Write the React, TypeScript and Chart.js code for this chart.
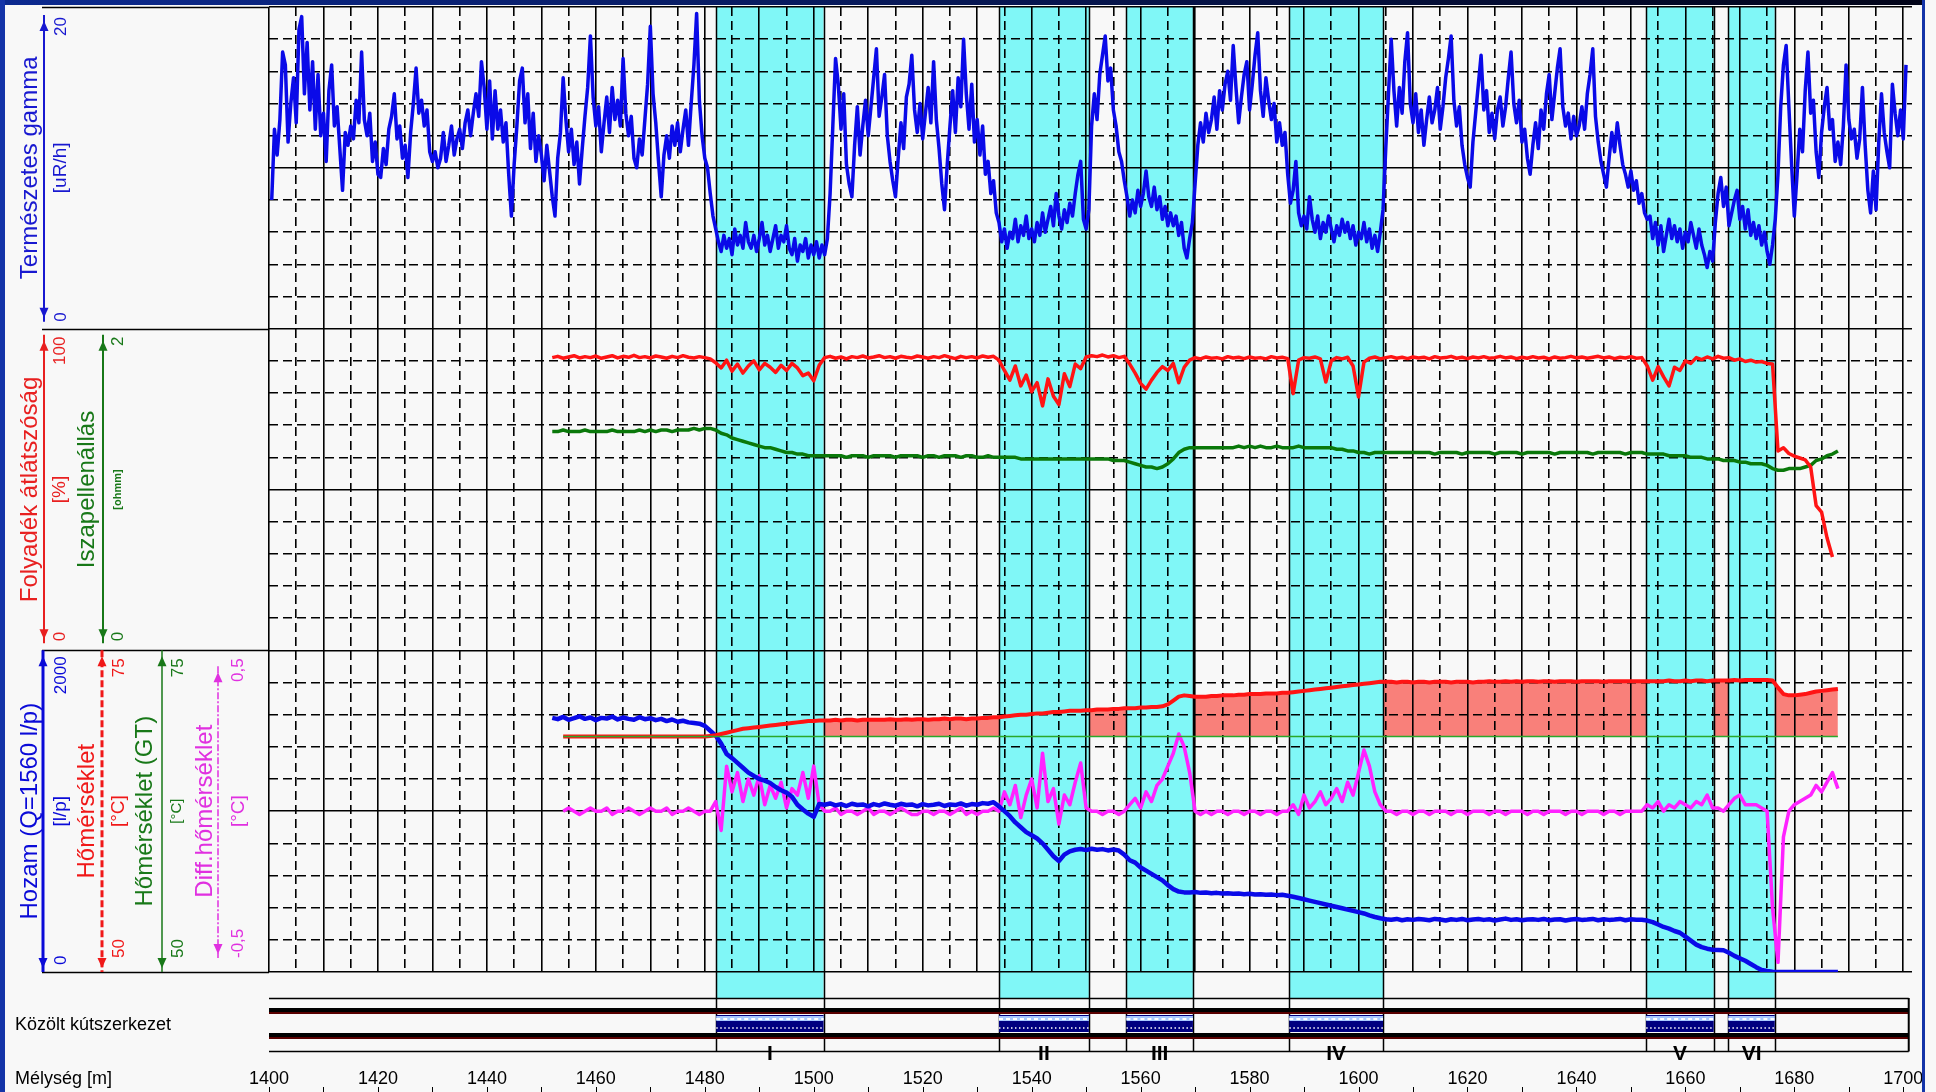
import React, { useEffect, useRef } from 'react';
import { Chart, registerables } from 'chart.js';

Chart.register(...registerables);

// ---- depth axis (m) ----
const DEPTH_MIN = 1400;
const DEPTH_MAX = 1701.6;
const DEPTH_GRID_STEP = 5;
const DEPTH_LABEL_STEP = 20;

// ---- tested intervals ----
const intervalNames = ['I', 'II', 'III', 'IV', 'V', 'VI'];
const intervalTop = [1482.1, 1534.0, 1557.4, 1587.3, 1652.8, 1667.9];
const intervalBottom = [1501.8, 1550.5, 1569.6, 1604.5, 1665.2, 1676.4];
const wellEnd = 1701.0;

// ---- track ranges ----
const gammaRange = [0, 20];
const transparencyRange = [0, 100];
const resistivityRange = [0, 2];
const flowRange = [0, 2000];
const temperatureRange = [50, 75];
const diffTempRange = [-0.5, 0.5];

// ---- natural gamma [uR/h], every 0.5 m from 1400.5 m ----
const gammaStart = 1400.5;
const gammaStep = 0.5;
const gammaValues = [
  8.0, 12.4, 10.8, 13.0, 17.2, 16.4, 11.6, 14.0, 15.6, 12.8, 18.6, 19.4, 14.6, 17.8, 13.6, 16.6, 12.4, 15.8, 12.0, 13.4,
  10.4, 14.8, 16.4, 12.6, 13.8, 11.2, 8.6, 12.2, 11.4, 12.6, 11.8, 14.2, 12.8, 17.2, 13.0, 12.0, 13.4, 10.4, 11.6, 9.6,
  9.4, 11.2, 10.2, 12.4, 13.2, 14.6, 11.8, 12.6, 10.6, 11.4, 9.4, 12.2, 14.0, 16.2, 13.4, 14.2, 12.6, 13.6, 11.0, 10.4,
  11.0, 10.0, 10.6, 12.2, 10.4, 11.4, 12.6, 10.8, 11.8, 12.4, 11.2, 12.8, 13.6, 12.0, 13.4, 14.6, 13.2, 16.6, 15.0, 12.4,
  15.4, 11.8, 14.8, 12.4, 13.6, 11.6, 12.8, 9.6, 7.0, 10.2, 12.6, 15.4, 16.2, 12.8, 14.6, 11.2, 13.4, 10.4, 12.0, 10.8,
  9.2, 11.4, 9.8, 8.2, 7.0, 10.6, 12.2, 15.6, 13.0, 11.0, 12.4, 10.2, 11.6, 9.0, 11.2, 13.2, 15.0, 18.2, 14.4, 12.6,
  13.8, 11.0, 12.8, 14.4, 12.2, 15.0, 13.0, 14.2, 12.6, 16.8, 13.4, 12.0, 13.2, 10.6, 10.0, 11.8, 10.8, 13.0, 15.2, 18.8,
  14.6, 12.8, 10.4, 8.2, 10.8, 12.0, 10.6, 12.6, 11.4, 12.8, 11.0, 12.4, 13.6, 11.4, 14.0, 16.4, 19.6, 14.2, 12.0, 10.6,
  10.0, 8.4, 7.0, 6.2, 5.4, 4.8, 5.8, 5.0, 5.6, 4.6, 6.2, 5.2, 5.8, 5.0, 6.6, 5.4, 5.0, 5.8, 4.8, 5.6,
  6.6, 5.2, 5.8, 4.8, 5.6, 6.4, 5.0, 5.8, 5.4, 6.4, 5.0, 4.6, 5.6, 4.2, 5.2, 4.8, 5.6, 4.4, 5.2, 4.6,
  5.4, 4.4, 5.2, 4.6, 5.6, 8.4, 12.6, 16.8, 15.2, 12.4, 14.6, 10.2, 9.0, 8.2, 11.4, 13.8, 10.8, 12.6, 14.2, 12.0,
  13.8, 15.6, 17.4, 13.2, 14.4, 15.8, 12.0, 10.4, 9.2, 8.2, 10.6, 12.8, 11.2, 14.4, 15.2, 17.0, 13.6, 12.2, 14.0, 11.8,
  13.4, 15.0, 12.8, 16.6, 13.0, 11.2, 9.0, 7.4, 10.2, 12.6, 14.8, 12.2, 15.6, 13.8, 18.0, 14.6, 12.4, 15.2, 11.6, 13.0,
  10.8, 12.6, 9.6, 10.4, 8.4, 9.2, 7.2, 6.6, 5.4, 6.2, 5.0, 6.0, 5.6, 6.8, 5.4, 6.4, 5.8, 7.0, 5.6, 6.2,
  5.4, 6.6, 5.8, 7.2, 6.0, 6.8, 7.6, 6.4, 8.4, 7.0, 6.2, 7.4, 6.6, 7.8, 7.0, 8.4, 9.6, 10.4, 6.8, 6.2,
  7.4, 12.6, 14.6, 13.0, 15.8, 17.0, 18.2, 15.4, 16.2, 13.6, 12.6, 11.0, 10.4, 9.2, 8.2, 7.0, 8.0, 7.2, 8.6, 7.6,
  8.4, 9.8, 8.2, 7.6, 8.8, 7.4, 8.2, 6.8, 7.6, 6.4, 7.2, 6.4, 7.0, 5.8, 6.6, 5.0, 4.4, 5.6, 6.6, 9.0,
  11.4, 12.8, 11.6, 13.4, 12.2, 13.0, 14.4, 12.4, 14.8, 13.6, 15.2, 16.0, 14.2, 17.6, 15.0, 12.8, 14.4, 15.8, 16.6, 13.6,
  15.2, 17.0, 18.4, 14.8, 13.2, 15.6, 14.2, 13.0, 14.0, 11.6, 12.8, 11.4, 12.2, 9.6, 7.8, 8.6, 10.4, 7.2, 6.4, 7.0,
  6.2, 8.2, 6.8, 6.0, 7.0, 5.6, 6.6, 6.0, 7.0, 6.2, 5.4, 6.4, 5.8, 6.8, 6.0, 6.6, 5.6, 6.4, 5.2, 6.0,
  5.6, 6.6, 5.4, 6.2, 5.0, 5.8, 4.8, 6.0, 7.4, 11.2, 14.6, 18.0, 14.8, 12.6, 15.0, 13.4, 16.6, 18.4, 14.0, 12.8,
  14.6, 12.2, 13.6, 11.4, 13.0, 14.4, 12.8, 13.6, 15.0, 12.4, 13.8, 15.6, 16.8, 18.2, 14.2, 12.6, 13.8, 11.4, 10.2, 9.4,
  8.8, 11.6, 13.4, 15.2, 17.0, 13.6, 14.8, 12.2, 13.4, 11.8, 13.6, 14.4, 12.6, 13.8, 15.6, 17.2, 14.0, 12.8, 14.2, 11.6,
  12.4, 10.6, 9.6, 11.4, 12.8, 11.2, 13.6, 12.4, 14.6, 15.8, 13.0, 14.6, 16.2, 17.4, 13.8, 12.6, 13.4, 11.8, 13.2, 12.0,
  12.6, 13.8, 12.4, 14.6, 15.8, 17.4, 13.2, 11.6, 10.4, 9.6, 8.8, 10.6, 12.2, 11.0, 12.8, 11.4, 10.2, 9.6, 8.8, 9.8,
  8.6, 9.2, 7.8, 8.4, 7.2, 6.8, 7.0, 5.6, 6.6, 5.2, 6.4, 4.8, 5.8, 6.8, 5.6, 6.4, 5.4, 6.2, 5.0, 6.0,
  5.4, 6.6, 5.8, 5.0, 6.2, 5.2, 4.6, 3.8, 4.8, 4.2, 6.6, 8.4, 9.4, 7.6, 8.8, 6.4, 7.2, 8.0, 8.6, 6.8,
  7.6, 6.2, 7.4, 5.8, 6.6, 5.6, 6.4, 5.2, 6.0, 4.8, 4.0, 5.2, 6.8, 9.6, 13.8, 16.4, 17.6, 13.8, 10.2, 7.0,
  9.6, 12.4, 11.0, 14.8, 17.2, 13.4, 14.2, 11.0, 9.4, 12.2, 13.8, 15.0, 12.4, 13.0, 10.4, 11.6, 10.2, 12.6, 16.4, 13.0,
  11.8, 12.4, 10.6, 11.8, 15.0, 11.4, 8.6, 7.2, 9.8, 7.4, 11.6, 14.6, 12.2, 11.0, 10.0, 15.2, 13.4, 12.0, 13.6, 11.8,
  16.4,
];

// ---- production logs, every 1 m from 1452 m ----
const logStart = 1452;
const logStep = 1;

// fluid transparency [%]
const transparencyValues = [
  91.0, 91.4, 90.8, 91.2, 91.6, 90.9, 91.3, 91.0, 91.5, 90.8,
  91.2, 91.6, 90.9, 91.4, 91.1, 91.7, 91.0, 91.3, 90.9, 91.5,
  91.2, 90.8, 91.4, 91.0, 91.6, 91.1, 90.9, 91.3, 91.0, 90.6,
  89.4, 87.8, 90.2, 86.8, 89.0, 86.2, 88.4, 90.0, 87.2, 89.2,
  88.0, 86.4, 88.6, 87.0, 89.2, 87.8, 85.4, 86.2, 83.8, 88.6,
  91.0, 91.4, 90.8, 91.2, 90.6, 91.3, 91.0, 91.5, 90.9, 91.2,
  91.6, 91.0, 91.3, 90.8, 91.4, 91.1, 90.9, 91.5, 91.2, 90.8,
  91.3, 91.0, 91.6, 91.1, 90.7, 91.4, 91.0, 91.3, 90.9, 91.5,
  91.1, 91.4, 90.2, 87.0, 84.0, 88.4, 82.2, 85.6, 80.4, 83.2,
  76.0, 84.4, 79.0, 76.4, 86.0, 82.0, 89.0, 87.6, 91.2, 91.6,
  91.3, 91.8, 91.2, 91.6, 91.0, 91.4, 89.0, 86.2, 83.0, 81.2,
  84.0, 86.4, 88.2, 87.0, 89.2, 83.2, 88.0, 90.2, 91.0, 90.6,
  91.2, 90.8, 91.0, 90.6, 91.3, 90.9, 91.1, 90.7, 91.2, 90.8,
  91.0, 90.6, 91.3, 90.9, 91.1, 90.7, 79.8, 90.2, 91.0, 90.8,
  91.2, 90.6, 83.4, 90.0, 91.0, 90.6, 91.1, 88.4, 78.8, 89.6,
  90.8, 91.2, 90.6, 91.0, 91.3, 90.8, 91.1, 90.7, 91.2, 90.9,
  91.1, 90.6, 91.3, 90.9, 91.0, 91.4, 90.8, 91.1, 90.7, 91.2,
  90.9, 91.3, 90.8, 91.0, 91.4, 90.9, 91.2, 90.7, 91.1, 90.8,
  91.3, 90.9, 91.1, 90.6, 91.2, 90.8, 91.0, 91.4, 90.9, 91.2,
  90.8, 91.1, 91.4, 90.9, 91.2, 90.7, 91.1, 90.9, 91.3, 90.8,
  91.0, 88.4, 84.0, 88.2, 85.0, 82.2, 88.0, 87.0, 90.0, 89.2,
  91.0, 90.4, 91.2, 90.6, 91.4, 90.8, 91.0, 90.2, 90.6, 89.8,
  90.2, 89.6, 89.8, 89.2, 89.0, 62.0, 63.0, 61.2, 60.4, 59.8,
  59.2, 57.0, 45.0, 43.0, 35.0, 29.0, null,
];

// mud resistivity [ohmm]
const resistivityValues = [
  1.36, 1.36, 1.37, 1.36, 1.36, 1.36, 1.37, 1.36, 1.36, 1.36,
  1.36, 1.37, 1.36, 1.36, 1.36, 1.36, 1.37, 1.36, 1.37, 1.36,
  1.37, 1.37, 1.36, 1.37, 1.37, 1.37, 1.38, 1.37, 1.38, 1.38,
  1.37, 1.35, 1.34, 1.32, 1.31, 1.30, 1.29, 1.28, 1.27, 1.26,
  1.26, 1.25, 1.24, 1.23, 1.23, 1.22, 1.22, 1.21, 1.21, 1.21,
  1.21, 1.21, 1.21, 1.21, 1.20, 1.21, 1.21, 1.21, 1.20, 1.21,
  1.21, 1.21, 1.21, 1.20, 1.21, 1.21, 1.21, 1.21, 1.20, 1.21,
  1.21, 1.20, 1.21, 1.21, 1.21, 1.20, 1.21, 1.21, 1.20, 1.20,
  1.21, 1.20, 1.20, 1.20, 1.20, 1.20, 1.19, 1.19, 1.19, 1.19,
  1.19, 1.19, 1.19, 1.19, 1.19, 1.19, 1.19, 1.19, 1.19, 1.19,
  1.19, 1.19, 1.19, 1.18, 1.18, 1.18, 1.17, 1.16, 1.15, 1.14,
  1.14, 1.13, 1.14, 1.16, 1.19, 1.23, 1.25, 1.26, 1.26, 1.26,
  1.26, 1.26, 1.26, 1.26, 1.26, 1.26, 1.27, 1.26, 1.27, 1.26,
  1.27, 1.26, 1.26, 1.27, 1.26, 1.26, 1.26, 1.27, 1.26, 1.26,
  1.26, 1.26, 1.26, 1.26, 1.25, 1.25, 1.24, 1.24, 1.23, 1.23,
  1.22, 1.23, 1.23, 1.23, 1.23, 1.23, 1.23, 1.23, 1.23, 1.23,
  1.23, 1.23, 1.22, 1.23, 1.23, 1.23, 1.23, 1.22, 1.23, 1.23,
  1.23, 1.23, 1.23, 1.22, 1.23, 1.23, 1.23, 1.23, 1.22, 1.23,
  1.23, 1.23, 1.23, 1.23, 1.22, 1.23, 1.23, 1.23, 1.23, 1.23,
  1.23, 1.22, 1.23, 1.23, 1.23, 1.23, 1.23, 1.22, 1.23, 1.23,
  1.23, 1.22, 1.22, 1.22, 1.22, 1.21, 1.21, 1.21, 1.21, 1.20,
  1.20, 1.20, 1.19, 1.19, 1.19, 1.18, 1.18, 1.18, 1.17, 1.17,
  1.16, 1.16, 1.16, 1.15, 1.13, 1.12, 1.12, 1.13, 1.13, 1.13,
  1.14, 1.15, 1.18, 1.19, 1.21, 1.22, 1.24,
];

// flow rate [l/p]
const flowValues = [
  1580, 1572, 1586, 1568, 1578, 1590, 1574, 1582, 1566, 1580,
  1576, 1588, 1570, 1582, 1574, 1568, 1584, 1572, 1578, 1566,
  1574, 1560, 1570, 1556, 1562, 1552, 1548, 1544, 1530, 1500,
  1470, 1420, 1356, 1330, 1300, 1270, 1240, 1219, 1200, 1190,
  1175, 1150, 1130, 1115, 1090, 1040, 1010, 985, 965, 1045,
  1040, 1048, 1036, 1044, 1032, 1046, 1038, 1042, 1030, 1044,
  1036, 1048, 1040, 1034, 1046, 1038, 1042, 1030, 1044, 1036,
  1040, 1046, 1032, 1042, 1038, 1048, 1034, 1044, 1040, 1050,
  1046, 1056, 1030, 1000, 969, 930, 900, 870, 850, 830,
  800, 760, 720, 690, 730, 750, 760, 765, 758, 766,
  760, 764, 756, 762, 755, 730, 695, 680, 650, 630,
  610, 590, 570, 540, 515, 500, 495, 494, 497, 492,
  494, 490, 492, 488, 490, 486, 488, 484, 486, 482,
  484, 480, 482, 478, 480, 474, 468, 460, 452, 444,
  436, 428, 420, 412, 404, 396, 388, 380, 372, 364,
  352, 342, 334, 328, 325, 330, 322, 328, 324, 330,
  326, 322, 330, 326, 320, 328, 324, 330, 322, 326,
  330, 324, 328, 320, 326, 332, 324, 328, 322, 326,
  328, 324, 330, 322, 326, 328, 320, 326, 330, 324,
  326, 330, 322, 328, 324, 326, 330, 322, 328, 325,
  325, 320, 310, 295, 280, 270, 255, 244, 220, 195,
  170, 155, 145, 138, 137, 135, 120, 100, 85, 70,
  50, 30, 12, 6, 2, 0, 0, 0, 0, 0,
  0, 0, 0, 0, 0, 0, 0,
];

// fluid temperature [°C]
const temperatureValues = [
  null, null, 68.3, 68.3, 68.3, 68.3, 68.3, 68.3, 68.3, 68.3,
  68.3, 68.3, 68.3, 68.3, 68.3, 68.3, 68.3, 68.3, 68.3, 68.3,
  68.3, 68.3, 68.3, 68.3, 68.3, 68.3, 68.3, 68.3, 68.3, 68.35,
  68.4, 68.5, 68.6, 68.7, 68.8, 68.9, 68.95, 69.0, 69.05, 69.1,
  69.15, 69.2, 69.25, 69.3, 69.35, 69.4, 69.45, 69.5, 69.5, 69.55,
  69.55, 69.55, 69.6, 69.55, 69.6, 69.6, 69.55, 69.6, 69.6, 69.6,
  69.6, 69.6, 69.65, 69.6, 69.6, 69.65, 69.6, 69.65, 69.65, 69.6,
  69.65, 69.65, 69.7, 69.65, 69.7, 69.7, 69.65, 69.7, 69.7, 69.75,
  69.75, 69.8, 69.8, 69.85, 69.9, 69.95, 70.0, 70.0, 70.05, 70.1,
  70.1, 70.15, 70.2, 70.2, 70.25, 70.3, 70.3, 70.3, 70.35, 70.35,
  70.4, 70.4, 70.4, 70.45, 70.45, 70.5, 70.5, 70.5, 70.55, 70.55,
  70.6, 70.6, 70.65, 70.8, 71.1, 71.4, 71.5, 71.45, 71.4, 71.4,
  71.4, 71.45, 71.45, 71.5, 71.5, 71.5, 71.55, 71.55, 71.6, 71.6,
  71.6, 71.65, 71.65, 71.65, 71.7, 71.7, 71.75, 71.8, 71.85, 71.9,
  71.95, 72.0, 72.05, 72.1, 72.15, 72.2, 72.25, 72.3, 72.35, 72.4,
  72.45, 72.5, 72.55, 72.55, 72.55, 72.5, 72.55, 72.55, 72.5, 72.55,
  72.55, 72.5, 72.55, 72.55, 72.55, 72.5, 72.55, 72.55, 72.55, 72.5,
  72.55, 72.55, 72.6, 72.55, 72.55, 72.6, 72.55, 72.6, 72.55, 72.6,
  72.6, 72.55, 72.6, 72.6, 72.55, 72.6, 72.6, 72.6, 72.55, 72.6,
  72.6, 72.6, 72.6, 72.55, 72.6, 72.6, 72.6, 72.6, 72.6, 72.6,
  72.6, 72.6, 72.6, 72.6, 72.6, 72.65, 72.6, 72.6, 72.65, 72.6,
  72.65, 72.65, 72.6, 72.65, 72.65, 72.65, 72.65, 72.7, 72.65, 72.7,
  72.7, 72.7, 72.7, 72.7, 72.65, 72.1, 71.6, 71.5, 71.5, 71.55,
  71.6, 71.7, 71.8, 71.85, 71.9, 71.95, 72.0,
];

// differential temperature [°C]
const diffTempValues = [
  null, null, 0.0, 0.01, 0.0, -0.01, 0.0, 0.01, 0.0, 0.0,
  0.01, -0.01, 0.0, 0.0, 0.01, 0.0, -0.01, 0.0, 0.01, 0.0,
  0.0, 0.01, -0.01, 0.0, 0.0, 0.01, 0.0, -0.01, 0.0, 0.0,
  0.03, -0.06, 0.14, 0.06, 0.12, 0.03, 0.10, 0.05, 0.11, 0.02,
  0.08, 0.04, 0.09, 0.01, 0.07, 0.05, 0.12, 0.04, 0.14, 0.02,
  0.0, 0.0, 0.01, -0.01, 0.0, 0.0, -0.01, 0.0, 0.01, -0.01,
  0.0, 0.0, -0.01, 0.0, 0.01, 0.0, -0.01, -0.01, 0.0, 0.0,
  -0.01, 0.0, 0.0, -0.01, 0.0, 0.01, -0.01, 0.0, -0.01, 0.0,
  0.0, 0.01, 0.0, 0.06, 0.02, 0.08, -0.02, 0.05, 0.10, 0.01,
  0.18, 0.03, 0.07, -0.04, 0.05, 0.02, 0.09, 0.15, 0.01, 0.0,
  0.0, -0.01, 0.0, 0.0, -0.01, 0.0, 0.02, 0.04, 0.01, 0.06,
  0.03, 0.08, 0.10, 0.14, 0.18, 0.24, 0.20, 0.12, 0.0, -0.01,
  0.0, -0.01, 0.0, 0.0, -0.01, 0.0, 0.0, -0.01, 0.0, 0.0,
  -0.01, 0.0, 0.0, -0.01, 0.0, 0.0, 0.02, -0.01, 0.05, 0.01,
  0.03, 0.06, 0.02, 0.04, 0.07, 0.03, 0.09, 0.05, 0.12, 0.19,
  0.14, 0.06, 0.02, 0.0, 0.0, -0.01, 0.0, 0.0, -0.01, 0.0,
  0.0, -0.01, 0.0, 0.0, 0.0, -0.01, 0.0, 0.0, -0.01, 0.0,
  0.0, 0.0, -0.01, 0.0, 0.0, -0.01, 0.0, 0.0, 0.0, -0.01,
  0.0, 0.0, -0.01, 0.0, 0.0, 0.0, -0.01, 0.0, 0.0, -0.01,
  0.0, 0.0, 0.0, -0.01, 0.0, 0.0, -0.01, 0.0, 0.0, 0.0,
  0.0, 0.02, 0.01, 0.03, 0.0, 0.02, 0.01, 0.03, 0.02, 0.01,
  0.03, 0.02, 0.05, 0.01, 0.01, 0.0, 0.02, 0.04, 0.05, 0.02,
  0.02, 0.02, 0.01, 0.0, -0.30, -0.47, -0.08, 0.0, 0.02, 0.03,
  0.04, 0.05, 0.08, 0.06, 0.09, 0.12, 0.07,
];

// geothermal (undisturbed) temperature [°C]
const geoTempDepths = [1454, 1688];
const geoTempValues = [68.3, 68.3];

// ---- styling ----
const FONT = "'Liberation Sans', Arial, Helvetica, sans-serif";
const BG = '#f8f8f8';
const CYAN = '#80f7f7';
const SALMON = '#f9807a';
const BLUE = '#0a0ae8';
const RED = '#ff1414';
const GREEN = '#0a780a';
const GT_GREEN = '#2aa82a';
const MAGENTA = '#ff22ff';
const FRAME_BLUE = '#1434a8';
const GRID_DASH = [9, 5];

// well track rows, offsets below the plot bottom
const TRACK = { cyanEnd: 26, top: 26, pipe1: 38, screenTop: 43, screenBot: 60, pipe2: 63, bottom: 79, roman: 88, depthLabel: 112 };

function toPoints(start, step, values) {
  return values.map((v, i) => ({ x: Math.round((start + i * step) * 100) / 100, y: v }));
}

// each y scale spans the whole plot height; its own range fills one of the three stacked tracks
function trackScale(range, track) {
  const span = range[1] - range[0];
  return { type: 'linear', display: false, min: range[0] - (2 - track) * span, max: range[1] + track * span };
}

const fmt = (v) => String(v).replace('.', ',');

// left header: one entry per axis
const headerAxes = [
  { track: 0, x: 44, color: '#1818d0', width: 2, dash: [], range: gammaRange, title: 'Természetes gamma', titleX: 37, unit: '[uR/h]', unitX: 66, unitFont: `19px ${FONT}`, tickX: 66, hiOff: 10, loOff: 7, inset: [8, 7] },
  { track: 1, x: 44, color: '#e82020', width: 2, dash: [], range: transparencyRange, title: 'Folyadék átlátszóság', titleX: 37, unit: '[%]', unitX: 65, unitFont: `19px ${FONT}`, tickX: 65, hiOff: 8, loOff: 9, inset: [6, 7] },
  { track: 1, x: 103, color: '#187818', width: 2, dash: [], range: resistivityRange, title: 'Iszapellenállás', titleX: 94, unit: '[ohmm]', unitX: 121, unitFont: `bold 11px ${FONT}`, tickX: 123, hiOff: 8, loOff: 9, inset: [6, 7] },
  { track: 2, x: 43, color: '#0a0ad8', width: 3, dash: [], range: flowRange, title: 'Hozam (Q=1560 l/p)', titleX: 37, unit: '[l/p]', unitX: 66, unitFont: `19px ${FONT}`, tickX: 66, hiOff: 6, loOff: 7, inset: [0, 0] },
  { track: 2, x: 102, color: '#f01818', width: 3, dash: [7, 3], range: temperatureRange, title: 'Hőmérséklet', titleX: 94, unit: '[°C]', unitX: 124, unitFont: `19px ${FONT}`, tickX: 124, hiOff: 8, loOff: 14, inset: [0, 0] },
  { track: 2, x: 162, color: '#187818', width: 1.5, dash: [], range: temperatureRange, title: 'Hőmérséklet (GT)', titleX: 152, unit: '[°C]', unitX: 181, unitFont: `15px ${FONT}`, tickX: 183, hiOff: 8, loOff: 14, inset: [0, 0] },
  { track: 2, x: 218, color: '#e030e0', width: 1.5, dash: [7, 2, 2, 2], range: diffTempRange, title: 'Diff.hőmérséklet', titleX: 212, unit: '[°C]', unitX: 244, unitFont: `19px ${FONT}`, tickX: 243, hiOff: 8, loOff: 14, inset: [16, 14] },
];

function rotText(ctx, text, x, y, align, color, font) {
  ctx.save();
  ctx.translate(x, y);
  ctx.rotate(-Math.PI / 2);
  ctx.font = font;
  ctx.fillStyle = color;
  ctx.textAlign = align;
  ctx.textBaseline = 'alphabetic';
  ctx.fillText(text, 0, 0);
  ctx.restore();
}

function arrowHead(ctx, x, tipY, up, color) {
  const h = 10;
  const w = 4.5;
  const baseY = up ? tipY + h : tipY - h;
  ctx.save();
  ctx.fillStyle = color;
  ctx.beginPath();
  ctx.moveTo(x, tipY);
  ctx.lineTo(x - w, baseY);
  ctx.lineTo(x + w, baseY);
  ctx.closePath();
  ctx.fill();
  ctx.restore();
}

const wellLogPlugin = {
  id: 'wellLog',
  beforeDraw(chart) {
    // test intervals shaded across all tracks
    const { ctx, chartArea: a, scales } = chart;
    const xs = scales.x;
    ctx.save();
    ctx.fillStyle = CYAN;
    for (let i = 0; i < intervalTop.length; i++) {
      const x0 = xs.getPixelForValue(intervalTop[i]);
      const x1 = xs.getPixelForValue(intervalBottom[i]);
      ctx.fillRect(x0, a.top, x1 - x0, a.bottom + TRACK.cyanEnd - a.top);
    }
    ctx.restore();
  },
  beforeDatasetsDraw(chart) {
    const { ctx, chartArea: a, scales } = chart;
    const xs = scales.x;
    ctx.save();
    ctx.strokeStyle = '#000';
    ctx.lineWidth = 1.5;
    for (let i = 0; i < intervalTop.length; i++) {
      [intervalTop[i], intervalBottom[i]].forEach((d) => {
        const px = Math.round(xs.getPixelForValue(d)) + 0.5;
        ctx.beginPath();
        ctx.moveTo(px, a.top);
        ctx.lineTo(px, a.bottom + TRACK.bottom);
        ctx.stroke();
      });
    }
    ctx.restore();
  },
  afterDraw(chart) {
    const { ctx, chartArea: a, scales } = chart;
    const xs = scales.x;
    const yg = scales.yGrid;
    const trackTop = (k) => yg.getPixelForValue(30 - 10 * k);
    const trackBot = (k) => yg.getPixelForValue(20 - 10 * k);

    // ---- header separators ----
    ctx.save();
    ctx.strokeStyle = '#000';
    ctx.lineWidth = 1.5;
    [0, 1, 2].forEach((k) => {
      const y = Math.round(trackTop(k)) + 0.5;
      ctx.beginPath(); ctx.moveTo(42, y); ctx.lineTo(a.left, y); ctx.stroke();
    });
    const yb = Math.round(trackBot(2)) + 0.5;
    ctx.beginPath(); ctx.moveTo(42, yb); ctx.lineTo(a.left, yb); ctx.stroke();
    ctx.restore();

    // ---- header axes ----
    headerAxes.forEach((h) => {
      const pT = trackTop(h.track);
      const pB = trackBot(h.track);
      const mid = (pT + pB) / 2;
      ctx.save();
      ctx.strokeStyle = h.color;
      ctx.lineWidth = h.width;
      ctx.setLineDash(h.dash);
      ctx.beginPath();
      ctx.moveTo(h.x, pT + h.inset[0]);
      ctx.lineTo(h.x, pB - h.inset[1]);
      ctx.stroke();
      ctx.restore();
      arrowHead(ctx, h.x, pT + h.inset[0] + 6, true, h.color);
      arrowHead(ctx, h.x, pB - h.inset[1] - 4, false, h.color);
      rotText(ctx, h.title, h.titleX, mid, 'center', h.color, `24px ${FONT}`);
      rotText(ctx, h.unit, h.unitX, mid, 'center', h.color, h.unitFont);
      rotText(ctx, fmt(h.range[1]), h.tickX, pT + h.hiOff, 'right', h.color, `17px ${FONT}`);
      rotText(ctx, fmt(h.range[0]), h.tickX, pB - h.loOff, 'left', h.color, `17px ${FONT}`);
    });

    // ---- well construction track ----
    const base = a.bottom;
    const xL = xs.getPixelForValue(DEPTH_MIN);
    const xR = xs.getPixelForValue(wellEnd);
    ctx.save();
    ctx.strokeStyle = '#000';
    ctx.lineWidth = 1.5;
    [TRACK.top, TRACK.bottom].forEach((off) => {
      const y = base + off + 0.5;
      ctx.beginPath(); ctx.moveTo(xL, y); ctx.lineTo(xR, y); ctx.stroke();
    });
    [TRACK.pipe1, TRACK.pipe2].forEach((off) => {
      ctx.fillStyle = '#5a0000';
      ctx.fillRect(xL, base + off - 2, xR - xL, 6);
      ctx.fillStyle = '#000';
      ctx.fillRect(xL, base + off - 2, xR - xL, 4);
    });
    // screened sections
    for (let i = 0; i < intervalTop.length; i++) {
      const x0 = xs.getPixelForValue(intervalTop[i]);
      const x1 = xs.getPixelForValue(intervalBottom[i]);
      const yT = base + TRACK.screenTop;
      const yB = base + TRACK.screenBot;
      ctx.fillStyle = '#000080';
      ctx.fillRect(x0, yT, x1 - x0, yB - yT);
      ctx.fillStyle = '#a8c8ff';
      ctx.fillRect(x0, yT + 1, x1 - x0, 5);
      ctx.strokeStyle = '#ffffff';
      ctx.lineWidth = 2;
      ctx.setLineDash([4, 3]);
      ctx.beginPath(); ctx.moveTo(x0, yT + 4); ctx.lineTo(x1, yT + 4); ctx.stroke();
      ctx.lineWidth = 1.5;
      ctx.setLineDash([1.5, 2.5]);
      ctx.beginPath(); ctx.moveTo(x0, yB - 4); ctx.lineTo(x1, yB - 4); ctx.stroke();
      ctx.setLineDash([]);
    }
    // closing line at the well bottom
    ctx.strokeStyle = '#000';
    ctx.lineWidth = 2;
    ctx.beginPath(); ctx.moveTo(xR, base + TRACK.top); ctx.lineTo(xR, base + TRACK.bottom + 0.5); ctx.stroke();

    // interval numbers
    ctx.fillStyle = '#000';
    ctx.font = `bold 21px ${FONT}`;
    ctx.textAlign = 'center';
    ctx.textBaseline = 'alphabetic';
    intervalNames.forEach((name, i) => {
      const cx = xs.getPixelForValue((intervalTop[i] + intervalBottom[i]) / 2);
      ctx.fillText(name, cx, base + TRACK.roman);
    });

    // depth labels from the depth scale ticks
    ctx.font = `18px ${FONT}`;
    xs.ticks.forEach((t) => {
      if (t.value % DEPTH_LABEL_STEP === 0) {
        ctx.fillText(String(t.value), xs.getPixelForValue(t.value), base + TRACK.depthLabel);
      }
    });
    ctx.lineWidth = 1;
    xs.ticks.forEach((t) => {
      if (t.value % 10 === 0) {
        const px = Math.round(xs.getPixelForValue(t.value)) + 0.5;
        ctx.beginPath(); ctx.moveTo(px, base + 115); ctx.lineTo(px, base + 120); ctx.stroke();
      }
    });

    ctx.textAlign = 'left';
    ctx.font = `18px ${FONT}`;
    ctx.fillText('Közölt kútszerkezet', 15, base + 58);
    ctx.fillText('Mélység [m]', 15, base + TRACK.depthLabel);

    // window frame
    const grad = ctx.createLinearGradient(0, 0, chart.width, 0);
    grad.addColorStop(0, '#0c2a90');
    grad.addColorStop(1, '#020418');
    ctx.fillStyle = grad;
    ctx.fillRect(0, 0, chart.width - 11, 5);
    ctx.fillStyle = FRAME_BLUE;
    ctx.fillRect(0, 0, 5, chart.height);
    ctx.fillRect(chart.width - 14, 0, 3, chart.height);
    ctx.restore();
  },
};

export default function App() {
  const canvasRef = useRef(null);

  useEffect(() => {
    document.body.style.margin = '0';
    document.body.style.overflow = 'hidden';
    const canvas = canvasRef.current;
    if (!canvas) return undefined;

    const chart = new Chart(canvas, {
      type: 'line',
      data: {
        datasets: [
          { label: 'Természetes gamma', data: toPoints(gammaStart, gammaStep, gammaValues), yAxisID: 'yGamma', borderColor: BLUE, borderWidth: 3.5 },
          { label: 'Folyadék átlátszóság', data: toPoints(logStart, logStep, transparencyValues), yAxisID: 'yTransparency', borderColor: RED, borderWidth: 3.5 },
          { label: 'Iszapellenállás', data: toPoints(logStart, logStep, resistivityValues), yAxisID: 'yResistivity', borderColor: GREEN, borderWidth: 3.5 },
          { label: 'Hőmérséklet (GT)', data: geoTempDepths.map((d, i) => ({ x: d, y: geoTempValues[i] })), yAxisID: 'yTemperature', borderColor: GT_GREEN, borderWidth: 1.5 },
          { label: 'Hőmérséklet', data: toPoints(logStart, logStep, temperatureValues), yAxisID: 'yTemperature', borderColor: RED, borderWidth: 4,
            fill: { target: { value: geoTempValues[0] }, above: SALMON, below: 'rgba(0,0,0,0)' } },
          { label: 'Hozam', data: toPoints(logStart, logStep, flowValues), yAxisID: 'yFlow', borderColor: BLUE, borderWidth: 4.5 },
          { label: 'Diff.hőmérséklet', data: toPoints(logStart, logStep, diffTempValues), yAxisID: 'yDiffTemp', borderColor: MAGENTA, borderWidth: 3.5 },
        ],
      },
      options: {
        responsive: false,
        animation: false,
        devicePixelRatio: 1,
        events: [],
        parsing: false,
        elements: {
          point: { radius: 0 },
          line: { tension: 0, borderJoinStyle: 'round', fill: false },
        },
        layout: { padding: { left: 269, top: 7, right: 24, bottom: 120 } },
        plugins: {
          legend: { display: false },
          tooltip: { enabled: false },
          filler: { drawTime: 'beforeDraw' },
        },
        scales: {
          x: {
            type: 'linear',
            position: 'bottom',
            min: DEPTH_MIN,
            max: DEPTH_MAX,
            ticks: { display: false, stepSize: DEPTH_GRID_STEP, includeBounds: false, autoSkip: false },
            grid: { color: '#000', lineWidth: 1.6, drawTicks: false },
            border: { display: false, dash: (c) => (c.tick && c.tick.value % 10 === 0 ? [] : GRID_DASH) },
          },
          yGrid: {
            type: 'linear',
            position: 'left',
            min: 0,
            max: 30,
            ticks: { display: false, stepSize: 1 },
            grid: { color: '#000', lineWidth: 1.6, drawTicks: false },
            border: { display: false, dash: (c) => (c.tick && c.tick.value % 5 === 0 ? [] : GRID_DASH) },
          },
          yGamma: trackScale(gammaRange, 0),
          yTransparency: trackScale(transparencyRange, 1),
          yResistivity: trackScale(resistivityRange, 1),
          yFlow: trackScale(flowRange, 2),
          yTemperature: trackScale(temperatureRange, 2),
          yDiffTemp: trackScale(diffTempRange, 2),
        },
      },
      plugins: [wellLogPlugin],
    });
    return () => chart.destroy();
  }, []);

  return (
    <div style={{ position: 'fixed', left: 0, top: 0, width: 1936, height: 1092, background: BG }}>
      <canvas ref={canvasRef} width={1936} height={1092} style={{ display: 'block', width: 1936, height: 1092 }} />
    </div>
  );
}
